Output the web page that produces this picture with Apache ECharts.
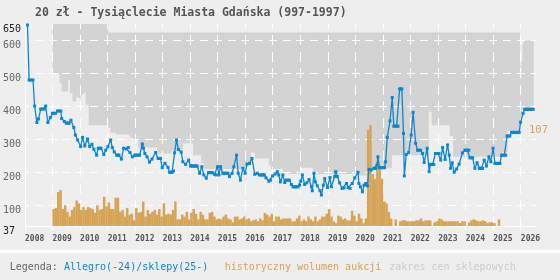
<!DOCTYPE html>
<html><head><meta charset="utf-8">
<script src="https://cdn.jsdelivr.net/npm/echarts@6/dist/echarts.min.js"></script>
<style>html,body{margin:0;padding:0;background:#eeeeee}#c{width:560px;height:280px}</style>
</head><body><div id="c"></div>
<script>
const titleText = '20 zł - Tysiąclecie Miasta Gdańska (997-1997)';
const legendLabel = 'Legenda: ';
const legendPrice = 'Allegro(-24)/sklepy(25-)';
const legendVolume = 'historyczny wolumen aukcji';
const legendBand = 'zakres cen sklepowych';
const yAxisMin = 37, yAxisMax = 650;
const yGridValues = [100, 200, 300, 400, 500, 600];
const yLabelValues = [37, 100, 200, 300, 400, 500, 600, 650];
const xAxisMin = 2008, xAxisMax = 2026.55;
const xYearTicks = [2008,2009,2010,2011,2012,2013,2014,2015,2016,2017,2018,2019,2020,2021,2022,2023,2024,2025,2026];
const volumeAxisMax = 214;
const volumeMarkLabel = [107];

// price line (Allegro / shops): decimal year, price
const priceDates = [2008.09,2008.15,2008.22,2008.29,2008.35,2008.43,2008.49,2008.57,2008.63,2008.70,2008.75,2008.83,2008.92,
2009.00,2009.05,2009.11,2009.18,2009.24,2009.30,2009.33,2009.43,2009.50,2009.55,2009.60,2009.67,2009.77,2009.83,2009.91,
2010.02,2010.09,2010.17,2010.27,2010.35,2010.43,2010.50,2010.60,2010.66,2010.71,2010.76,2010.86,2010.93,
2011.01,2011.11,2011.17,2011.24,2011.33,2011.37,2011.41,2011.50,2011.58,2011.68,2011.75,2011.81,2011.90,2011.99,
2012.03,2012.07,2012.11,2012.16,2012.26,2012.30,2012.35,2012.43,2012.52,2012.61,2012.74,2012.83,2012.88,2012.92,2012.98,
2013.08,2013.19,2013.25,2013.30,2013.34,2013.39,2013.43,2013.50,2013.57,2013.67,2013.73,2013.83,2013.94,
2014.01,2014.05,2014.09,2014.13,2014.17,2014.21,2014.25,2014.34,2014.42,2014.49,2014.58,2014.66,2014.70,2014.75,2014.80,2014.88,2014.94,2014.99,
2015.04,2015.10,2015.18,2015.22,2015.27,2015.32,2015.37,2015.42,2015.52,2015.58,2015.68,2015.74,2015.82,2015.91,2015.99,
2016.06,2016.15,2016.24,2016.34,2016.43,2016.51,2016.56,2016.60,2016.65,2016.69,2016.75,2016.85,2016.91,2016.99,
2017.08,2017.16,2017.21,2017.27,2017.36,2017.43,2017.48,2017.54,2017.60,2017.67,2017.73,2017.78,2017.82,2017.87,2017.91,2017.97,
2018.01,2018.07,2018.15,2018.23,2018.31,2018.40,2018.43,2018.49,2018.54,2018.61,2018.71,2018.76,2018.83,2018.88,2018.98,
2019.07,2019.12,2019.24,2019.28,2019.34,2019.42,2019.51,2019.58,2019.67,2019.73,2019.80,2019.88,2019.97,
2020.09,2020.12,2020.18,2020.25,2020.31,2020.37,2020.43,2020.49,2020.57,2020.66,2020.70,2020.73,2020.78,2020.81,2020.87,2020.91,2020.96,
2021.00,2021.05,2021.09,2021.15,2021.25,2021.33,2021.39,2021.44,2021.49,2021.54,2021.60,2021.64,2021.68,2021.74,2021.77,2021.84,2021.93,
2022.02,2022.09,2022.18,2022.25,2022.30,2022.36,2022.43,2022.49,2022.60,2022.67,2022.72,2022.76,2022.80,2022.84,2022.90,2022.94,2022.99,
2023.03,2023.09,2023.16,2023.25,2023.34,2023.40,2023.45,2023.51,2023.58,2023.67,2023.76,2023.88,2023.97,
2024.01,2024.06,2024.11,2024.15,2024.20,2024.25,2024.33,2024.41,2024.49,2024.53,2024.57,2024.61,2024.67,2024.75,2024.84,2024.91,2024.99,
2025.06,2025.10,2025.15,2025.20,2025.24,2025.30,2025.35,2025.40,2025.45,2025.50,2025.55,2025.60,2025.66,2025.70,2025.75,2025.80,2025.85,2025.90,2025.94,2025.99,
2026.08,2026.14,2026.19,2026.24,2026.29,2026.34,2026.39,2026.45];
const priceValues = [647,480,480,480,401,351,362,392,392,392,401,351,366,
379,379,379,386,386,386,363,354,349,349,349,358,336,313,298,
278,306,280,301,278,285,270,252,273,273,273,254,267,
278,298,275,262,252,252,252,240,273,271,275,260,247,252,
252,252,252,252,286,273,257,247,231,240,260,242,242,242,214,
227,215,200,200,200,204,259,298,269,261,232,224,237,
219,219,219,219,219,219,219,197,217,192,182,199,199,199,199,194,192,217,
192,217,197,197,197,197,197,187,197,217,252,197,176,212,197,
225,227,242,194,197,192,192,192,192,192,183,173,176,189,
195,202,192,171,192,169,176,176,176,163,156,156,156,156,156,161,
173,192,163,168,178,156,144,197,171,159,144,131,161,181,154,
184,156,187,202,187,168,151,153,166,154,151,166,183,
200,166,156,141,161,166,159,209,207,212,212,212,222,247,214,214,214,
214,214,232,306,356,427,340,340,340,340,453,453,453,318,189,254,260,
313,382,288,267,267,267,257,230,273,202,224,224,224,224,257,257,257,
257,237,275,239,283,252,212,229,200,210,225,259,267,
267,267,267,244,244,244,212,229,212,212,212,212,237,219,247,232,273,
227,227,227,227,227,252,252,252,252,310,310,310,321,321,321,321,321,321,321,352,
379,391,391,391,391,391,391,391];

// shop price range (holds from each date until the next)
const bandDates = [2009.00,2009.25,2009.33,2009.55,2009.63,2009.72,2009.84,2009.90,2010.00,2010.10,2010.20,2010.31,
2011.00,2011.10,2011.30,2011.80,2011.90,2012.10,2012.80,2013.30,2013.72,2014.10,2014.40,2014.50,
2016.00,2016.18,2016.35,2016.85,2016.93,2017.36,2017.54,2018.00,2018.45,2020.00,2020.45,2021.00,2021.30,
2022.64,2022.76,2023.42,2023.54,2025.30,2025.50,2025.93,2025.95,2025.98,2026.02,2026.06,2026.10,2026.45];
const bandLow = [500,470,445,480,440,415,430,425,435,440,405,343,
335,320,315,305,298,275,257,265,287,252,227,210,
222,260,242,220,210,200,195,214,195,190,217,212,252,
384,343,310,247,260,325,340,360,375,390,394,394,394];
const bandHigh = [650,650,650,650,650,650,650,650,650,650,650,650,
624,624,624,624,624,624,624,624,624,624,624,624,
624,624,624,624,624,624,624,624,624,624,624,624,624,
624,624,624,624,624,624,624,520,490,540,590,600,600];

// monthly auction volume, from January of each year
const volumeYears = [2009,2010,2011,2012,2013,2014,2015,2016,2017,2018,2019,2020,2021,2022,2023,2024,2025];
const volumeMonthly = [
[18,19,36,38,18,22,15,10,17,20,27,24],
[17,20,17,20,19,18,14,22,17,18,31,21],
[25,18,18,30,30,15,17,10,19,12,13,6],
[19,14,15,26,10,17,13,15,17,12,18,10],
[24,12,13,12,17,26,7,7,12,10,15,7],
[14,18,13,7,15,12,7,7,14,15,10,7],
[8,7,10,12,8,7,4,10,10,7,8,10],
[7,8,5,6,7,5,8,6,14,12,10,13],
[5,10,10,7,8,8,8,8,5,5,8,11],
[5,7,5,10,7,5,10,5,7,10,10,13],
[18,10,5,3,11,10,7,8,6,6,16,11],
[5,13,8,3,8,102,107,55,50,68,60,50],
[26,24,15,8,0,7,0,5,6,6,5,5],
[5,5,6,6,8,5,6,6,6,0,4,5],
[8,7,5,5,5,5,5,5,5,3,5,5],
[0,4,6,7,6,5,5,6,5,3,4,4],
[3,0,7]
];

const BLUE = '#0d86cf', ORANGE = '#d5a457', BAND = '#d3d3d3', BG = '#eeeeee', WHITE = '#ffffff';
const MONO = '"DejaVu Sans Mono", monospace';

const priceData = priceDates.map((d, i) => [d, priceValues[i]]);
const bandData = [];
for (let i = 0; i < bandDates.length - 1; i++) {
  bandData.push([bandDates[i], bandDates[i + 1], bandLow[i], bandHigh[i]]);
}
const volumeData = [];
volumeYears.forEach((y, yi) => {
  volumeMonthly[yi].forEach((v, m) => { if (v > 0) volumeData.push([y + (m + 0.5) / 12, v]); });
});

// white dashed grid + axis lines, positioned through the axis scales, drawn as 1px fills
function renderGrid(params, api) {
  const children = [];
  const rect = (x, y, w, h) => { if (w > 0 && h > 0) children.push({type: 'rect', shape: {x, y, width: w, height: h}, style: {fill: WHITE}}); };
  const origin = api.coord([xAxisMin, yAxisMin]);
  const top = Math.round(api.coord([xAxisMin, yAxisMax])[1]);
  const bottom = Math.round(origin[1]);
  const left = Math.round(origin[0]);
  const right = Math.round(api.coord([xAxisMax, yAxisMin])[0]);
  const vCenters = [];
  for (let v = yAxisMax; v > yAxisMin; v -= 50) vCenters.push(api.coord([xAxisMin, v])[1]);
  xYearTicks.slice(1).forEach(yr => {
    const x = Math.floor(api.coord([yr, yAxisMin])[0]);
    vCenters.forEach(c => {
      const y0 = Math.max(top, Math.round(c - 5)), y1 = Math.min(bottom, Math.round(c + 5));
      rect(x, y0, 1, y1 - y0);
    });
  });
  const hCenters = [];
  for (let t = xAxisMin; t <= xAxisMax; t += 0.5) hCenters.push(api.coord([t, yAxisMin])[0]);
  yGridValues.forEach(v => {
    const y = Math.floor(api.coord([xAxisMin, v])[1]);
    hCenters.forEach(c => {
      const x0 = Math.max(left, Math.round(c - 4)), x1 = Math.min(right, Math.round(c + 4));
      rect(x0, y, x1 - x0, 1);
    });
  });
  rect(left, top, 1, bottom - top + 1);
  rect(left, bottom, right - left, 1);
  xYearTicks.forEach(yr => {
    const x = Math.floor(api.coord([yr, yAxisMin])[0]);
    rect(x, bottom, 1, 4);
  });
  return {type: 'group', children};
}

const chart = echarts.init(document.getElementById('c'));
chart.setOption({
  animation: false,
  backgroundColor: BG,
  title: {
    text: titleText, left: 30, top: 2,
    textStyle: {fontFamily: MONO, fontSize: 11.5, fontWeight: 'bold', color: '#555555'}
  },
  grid: {left: 24.6, right: 24, top: 24, bottom: 54},
  xAxis: {
    type: 'value', min: xAxisMin, max: xAxisMax,
    axisLine: {show: false}, axisTick: {show: false, customValues: xYearTicks},
    axisLabel: {
      customValues: xYearTicks, align: 'left', margin: 9, fontFamily: MONO, fontSize: 8, fontWeight: 'bold', color: '#555555',
      formatter: v => String(v)
    },
    splitLine: {show: false}
  },
  yAxis: [{
    type: 'value', min: yAxisMin, max: yAxisMax,
    axisLine: {show: false}, axisTick: {show: false},
    axisLabel: {
      customValues: yLabelValues, align: 'left', verticalAlign: 'top', margin: 22, fontFamily: MONO, fontSize: 10,
      color: v => (Number(v) === yAxisMin || Number(v) === yAxisMax) ? '#222222' : '#666666'
    },
    splitLine: {show: false}
  }, {
    type: 'value', min: 0, max: volumeAxisMax, position: 'right',
    axisLine: {show: false}, axisTick: {show: false}, splitLine: {show: false},
    axisLabel: {
      show: true, customValues: volumeMarkLabel, align: 'left', verticalAlign: 'top', margin: -7,
      fontFamily: MONO, fontSize: 10.5, color: ORANGE
    }
  }],
  series: [
    {type: 'custom', name: 'band', data: bandData, z: 1, silent: true,
     encode: {x: [0, 1], y: [2, 3]},
     renderItem: (params, api) => {
       const p0 = api.coord([api.value(0), api.value(3)]);
       const p1 = api.coord([api.value(1), api.value(2)]);
       return {type: 'rect', shape: {x: p0[0], y: p0[1], width: p1[0] - p0[0] + 0.5, height: p1[1] - p0[1]},
               style: {fill: BAND}};
     }},
    {type: 'custom', name: 'grid', data: [[xAxisMin, yAxisMin]], z: 1.5, silent: true, clip: false,
     encode: {x: 0, y: 1}, renderItem: renderGrid},
    {type: 'bar', name: 'volume', data: volumeData, yAxisIndex: 1, barWidth: 2.5, z: 2,
     itemStyle: {color: ORANGE}},
    {type: 'line', name: 'price', data: priceData, z: 3,
     symbol: 'rect', symbolSize: 3, showAllSymbol: true,
     lineStyle: {color: BLUE, width: 1.3}, itemStyle: {color: BLUE}}
  ],
  graphic: [
    {type: 'rect', shape: {x: 0, y: 250, width: 560, height: 3}, style: {fill: WHITE}},
    {type: 'text', x: 9.7, y: 267, style: {text: legendLabel, font: '10px ' + MONO, fill: '#666666', verticalAlign: 'middle'}},
    {type: 'text', x: 63.9, y: 267, style: {text: legendPrice, font: '10px ' + MONO, fill: BLUE, verticalAlign: 'middle'}},
    {type: 'text', x: 224.7, y: 267, style: {text: legendVolume, font: '10px ' + MONO, fill: ORANGE, verticalAlign: 'middle'}},
    {type: 'text', x: 389.3, y: 267, style: {text: legendBand, font: '10px ' + MONO, fill: '#cccccc', verticalAlign: 'middle'}}
  ]
});
</script></body></html>
